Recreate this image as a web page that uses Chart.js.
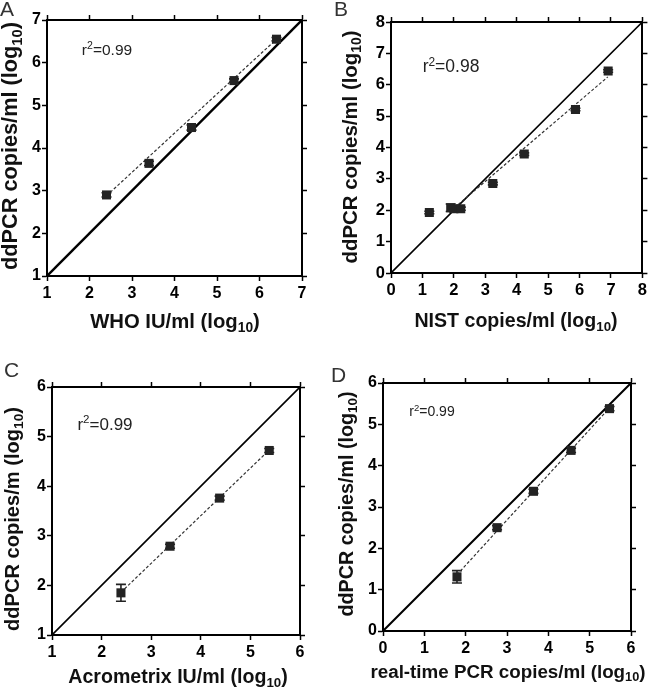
<!DOCTYPE html>
<html>
<head>
<meta charset="utf-8">
<script src="https://cdn.jsdelivr.net/npm/chart.js@4.4.1/dist/chart.umd.min.js"></script>
<style>
body { margin: 0; background: #fff; }
#wrap { position: relative; width: 650px; height: 688px; font-family: "Liberation Sans", Arial, sans-serif; color: #1a1a1a; overflow: hidden; }
#wrap canvas { position: absolute; }
.lbl { position: absolute; white-space: nowrap; line-height: 1; }
.letter { font-size: 21px; color: #333; }
.r2 { transform: translate(-50%, -50%); color: #222; }
.xt { font-weight: bold; transform: translate(-50%, -50%); color: #111; }
.yt { font-weight: bold; transform: translate(-50%, -50%) rotate(-90deg); color: #111; }
sub { font-size: 68%; vertical-align: -0.3em; line-height: 0; }
sup { font-size: 68%; vertical-align: 0.55em; line-height: 0; }
</style>
</head>
<body>
<div id="wrap">
  <canvas id="chartA" width="325" height="344" style="left:0;top:0"></canvas>
  <canvas id="chartB" width="325" height="344" style="left:325px;top:0"></canvas>
  <canvas id="chartC" width="325" height="344" style="left:0;top:344px"></canvas>
  <canvas id="chartD" width="325" height="344" style="left:325px;top:344px"></canvas>

  <div class="lbl letter" style="left:0;top:-2px">A</div>
  <div class="lbl letter" style="left:334px;top:-2px">B</div>
  <div class="lbl letter" style="left:4px;top:359px">C</div>
  <div class="lbl letter" style="left:331px;top:364px">D</div>

  <div class="lbl r2" style="left:107px;top:50px;font-size:15.5px">r<sup>2</sup>=0.99</div>
  <div class="lbl r2" style="left:451px;top:67px;font-size:17.5px">r<sup>2</sup>=0.98</div>
  <div class="lbl r2" style="left:105px;top:424px;font-size:17px">r<sup>2</sup>=0.99</div>
  <div class="lbl r2" style="left:432px;top:411px;font-size:14px">r<sup>2</sup>=0.99</div>

  <div class="lbl xt" style="left:175px;top:321px;font-size:20.3px">WHO IU/ml (log<sub>10</sub>)</div>
  <div class="lbl xt" style="left:516px;top:321px;font-size:19.6px">NIST copies/ml (log<sub>10</sub>)</div>
  <div class="lbl xt" style="left:178px;top:677px;font-size:19.6px">Acrometrix IU/ml (log<sub>10</sub>)</div>
  <div class="lbl xt" style="left:508px;top:672px;font-size:18.8px">real-time PCR copies/ml (log<sub>10</sub>)</div>

  <div class="lbl yt" style="left:10px;top:146px;font-size:21.7px">ddPCR copies/ml (log<sub>10</sub>)</div>
  <div class="lbl yt" style="left:350px;top:147px;font-size:20.4px">ddPCR copies/ml (log<sub>10</sub>)</div>
  <div class="lbl yt" style="left:12px;top:519px;font-size:20.1px">ddPCR copies/m (log<sub>10</sub>)</div>
  <div class="lbl yt" style="left:347px;top:504px;font-size:19.7px">ddPCR copies/ml (log<sub>10</sub>)</div>
</div>

<script>
// Panel A: WHO standard
const whoTicks = [1, 2, 3, 4, 5, 6, 7];
const whoX = [2.4, 3.4, 4.4, 5.4, 6.4];
const whoY = [2.9, 3.64, 4.48, 5.58, 6.55];
const whoErr = [0.05, 0.05, 0.06, 0.04, 0.04];
const whoFit = [[2.4, 2.88], [6.4, 6.55]];

// Panel B: NIST standard
const nistTicks = [0, 1, 2, 3, 4, 5, 6, 7, 8];
const nistX = [1.22, 1.9, 2.0, 2.22, 3.24, 4.24, 5.87, 6.91];
const nistY = [1.93, 2.08, 2.05, 2.05, 2.85, 3.79, 5.21, 6.44];
const nistErr = [0.04, 0.12, 0.08, 0.05, 0.04, 0.04, 0.04, 0.04];
const nistFit = [[1.9, 1.98], [6.9, 6.25]];

// Panel C: Acrometrix
const acroTicks = [1, 2, 3, 4, 5, 6];
const acroX = [2.39, 3.38, 4.38, 5.38];
const acroY = [1.85, 2.79, 3.76, 4.72];
const acroErr = [0.17, 0.04, 0.04, 0.04];
const acroFit = [[2.39, 1.86], [5.38, 4.73]];

// Panel D: real-time PCR
const rtTicks = [0, 1, 2, 3, 4, 5, 6];
const rtX = [1.79, 2.76, 3.64, 4.55, 5.48];
const rtY = [1.31, 2.5, 3.38, 4.37, 5.38];
const rtErr = [0.15, 0.05, 0.05, 0.05, 0.05];
const rtFit = [[1.79, 1.36], [5.48, 5.4]];

// vertical error bars with caps, drawn under the squares
const errBars = {
    id: 'errBars',
    beforeDatasetsDraw(chart) {
        const o = chart.options.plugins.errBars;
        const sx = chart.scales.x, sy = chart.scales.y;
        const ctx = chart.ctx;
        ctx.save();
        ctx.strokeStyle = '#222';
        ctx.lineWidth = 1.6;
        o.x.forEach((v, i) => {
            const px = sx.getPixelForValue(v);
            const top = sy.getPixelForValue(o.y[i] + o.err[i]);
            const bot = sy.getPixelForValue(o.y[i] - o.err[i]);
            ctx.beginPath();
            ctx.moveTo(px, top); ctx.lineTo(px, bot);
            ctx.moveTo(px - 5, top); ctx.lineTo(px + 5, top);
            ctx.moveTo(px - 5, bot); ctx.lineTo(px + 5, bot);
            ctx.stroke();
        });
        ctx.restore();
    }
};

function panel(id, o) {
    const t = o.ticks;
    const lo = t[0], hi = t[t.length - 1];
    const axis = (pos, size, labels) => ({
        type: 'linear',
        position: pos,
        min: lo,
        max: hi,
        afterBuildTicks: s => { s.ticks = t.map(v => ({ value: v })); },
        afterFit: s => {
            if (pos === 'left' || pos === 'right') s.width = size; else s.height = size;
        },
        grid: { drawOnChartArea: false, drawTicks: true, tickLength: 5, tickWidth: 1.5, tickColor: '#000' },
        border: { display: true, color: '#000', width: 2 },
        ticks: {
            display: labels,
            padding: pos === 'bottom' ? 3 : 1,
            color: '#000',
            font: { family: 'Liberation Sans', weight: 'bold', size: o.fs }
        }
    });

    return new Chart(document.getElementById(id), {
        type: 'scatter',
        data: {
            datasets: [{
                data: o.x.map((v, i) => ({ x: v, y: o.y[i] })),
                pointStyle: 'rect',
                pointRadius: 6.4,
                backgroundColor: '#232323',
                borderColor: '#232323',
                borderWidth: 0
            }, {
                type: 'line',
                data: o.fit.map(p => ({ x: p[0], y: p[1] })),
                borderColor: '#333',
                borderWidth: 1.2,
                borderDash: [3, 2],
                pointRadius: 0,
                fill: false
            }, {
                type: 'line',
                data: [{ x: lo, y: lo }, { x: hi, y: hi }],
                borderColor: '#000',
                borderWidth: o.idw,
                pointRadius: 0,
                fill: false
            }]
        },
        options: {
            responsive: false,
            animation: false,
            events: [],
            layout: { padding: 0 },
            plugins: {
                legend: { display: false },
                tooltip: { enabled: false },
                errBars: { x: o.x, y: o.y, err: o.err }
            },
            scales: {
                x: axis('bottom', o.area[3], true),
                x2: axis('top', o.area[1], false),
                y: axis('left', o.area[0], true),
                y2: axis('right', o.area[2], false)
            }
        },
        plugins: [errBars]
    });
}

// area = [left, top, right, bottom] margins around the plot box in each canvas
panel('chartA', { ticks: whoTicks, x: whoX, y: whoY, err: whoErr, fit: whoFit, idw: 2.4, fs: 16, area: [47, 20, 23, 68] });
panel('chartB', { ticks: nistTicks, x: nistX, y: nistY, err: nistErr, fit: nistFit, idw: 1.6, fs: 16.5, area: [66, 22, 7, 71] });
panel('chartC', { ticks: acroTicks, x: acroX, y: acroY, err: acroErr, fit: acroFit, idw: 1.6, fs: 16, area: [52, 43, 25, 53] });
panel('chartD', { ticks: rtTicks, x: rtX, y: rtY, err: rtErr, fit: rtFit, idw: 2, fs: 16, area: [58, 39, 19, 57] });
</script>
</body>
</html>
